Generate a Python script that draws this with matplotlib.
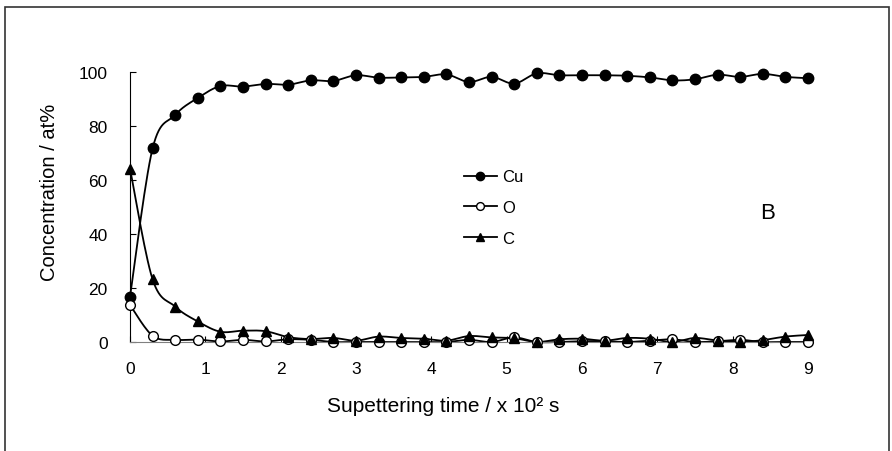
import matplotlib
matplotlib.use("Agg")
import matplotlib.pyplot as plt
from matplotlib.patches import Rectangle
import numpy as np

plt.rcParams['font.family'] = ['Liberation Sans', 'DejaVu Sans']

# sputtering time, x 10^2 s
time = [0.0, 0.3, 0.6, 0.9, 1.2, 1.5, 1.8, 2.1, 2.4, 2.7, 3.0, 3.3, 3.6, 3.9, 4.2, 4.5,
        4.8, 5.1, 5.4, 5.7, 6.0, 6.3, 6.6, 6.9, 7.2, 7.5, 7.8, 8.1, 8.4, 8.7, 9.0]

cu = [16.8, 71.7, 84.1, 90.4, 94.8, 94.6, 95.6, 95.3, 96.9, 96.7, 98.8, 97.9, 98.0, 98.2, 99.1, 96.3,
      98.2, 95.7, 99.5, 98.8, 98.8, 98.8, 98.6, 98.0, 96.9, 97.3, 99.0, 98.2, 99.3, 98.2, 97.7]

o = [13.7, 2.3, 0.8, 0.9, 0.2, 0.8, 0.2, 1.0, 0.8, 0.0, 0.0, 0.0, 0.0, 0.0, 0.0, 0.8,
     0.0, 1.7, 0.0, 0.0, 0.3, 0.3, 0.0, 0.5, 1.0, 0.0, 0.3, 0.8, 0.0, 0.0, 0.0]

c = [64.2, 23.2, 13.1, 7.6, 3.8, 4.2, 4.0, 1.8, 1.1, 1.5, 0.5, 2.0, 1.5, 1.2, 0.5, 2.2,
     1.7, 1.4, 0.0, 1.0, 1.2, 0.5, 1.5, 1.2, 0.0, 1.5, 0.5, 0.0, 0.7, 2.0, 2.6]


def smooth(x, y, n=16):
    # Catmull-Rom curve through the points, like a spreadsheet "smoothed line"
    pts = np.column_stack([x, y]).astype(float)
    pad = np.vstack([pts[0], pts, pts[-1]])
    t = np.linspace(0, 1, n)[:, None]
    out = []
    for i in range(len(pts) - 1):
        p0, p1, p2, p3 = pad[i], pad[i + 1], pad[i + 2], pad[i + 3]
        seg = 0.5 * ((2 * p1) + (-p0 + p2) * t + (2 * p0 - 5 * p1 + 4 * p2 - p3) * t ** 2
                     + (-p0 + 3 * p1 - 3 * p2 + p3) * t ** 3)
        out.append(seg if i == 0 else seg[1:])
    out = np.vstack(out)
    return out[:, 0], out[:, 1]


fig = plt.figure(figsize=(8.92, 4.52), dpi=100)
ax = fig.add_axes([130 / 892, 109 / 452, 678 / 892, 270 / 452])

series = [
    (cu, 'Cu', dict(marker='o', mfc='black', mec='black', ms=7.5)),
    (o, 'O', dict(marker='o', mfc='white', mec='black', ms=7, mew=1)),
    (c, 'C', dict(marker='^', mfc='black', mec='black', ms=7.5)),
]

for vals, name, style in series:
    sx, sy = smooth(time, vals)
    ax.plot(sx, sy, color='black', lw=1.3, clip_on=False, zorder=2)
    ax.plot(time, vals, ls='none', clip_on=False, zorder=3, **style)
    ax.plot([], [], color='black', lw=1.3, label=name,
            **{**style, 'ms': style['ms'] * 0.8})

ax.set_xlim(0, 9)
ax.set_ylim(0, 100)
ax.set_xticks(range(0, 10))
ax.set_yticks(range(0, 101, 20))
ax.tick_params(direction='in', length=4, labelsize=12.5)
ax.tick_params(axis='x', pad=14)
ax.tick_params(axis='y', pad=16)
for side in ['top', 'right']:
    ax.spines[side].set_visible(False)
ax.spines['left'].set_color('black')
ax.spines['bottom'].set_color('#808080')

fig.text(443 / 892, 1 - 407 / 452, 'Supettering time / x 10² s', fontsize=15,
         ha='center', va='center')
fig.text(50 / 892, 1 - 192 / 452, 'Concentration / at%', fontsize=14.5,
         ha='center', va='center', rotation=90)

ax.legend(loc='upper left', bbox_to_anchor=(0.48, 0.67), frameon=False, fontsize=12,
          handlelength=2.0, handletextpad=0.3, labelspacing=0.95, borderpad=0)
ax.text(0.94, 0.48, 'B', transform=ax.transAxes, fontsize=16, ha='center', va='center')

fig.patches.append(Rectangle((5 / 892, -0.1), 884 / 892, 1.1 - 8 / 452,
                             transform=fig.transFigure, fill=False,
                             edgecolor='#333333', lw=1.2))

fig.savefig('out.png', dpi=100)
